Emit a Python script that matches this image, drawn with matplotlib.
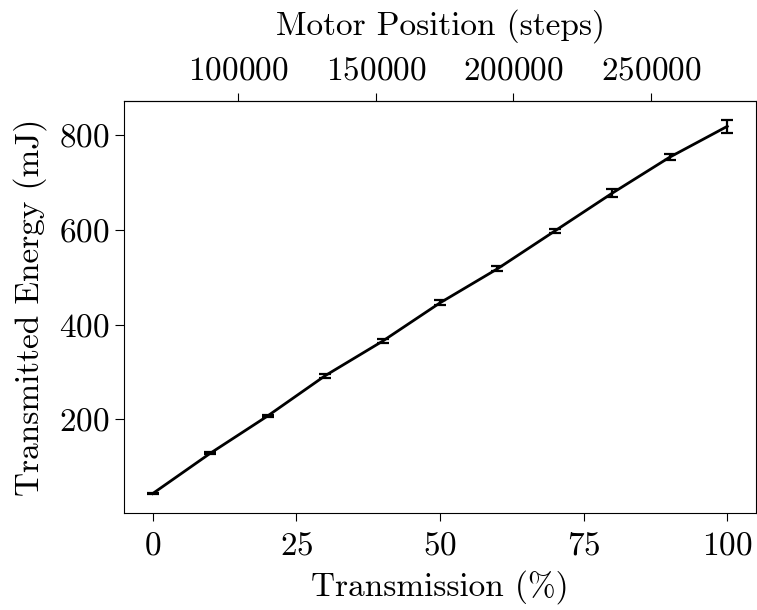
import numpy as np
import matplotlib
matplotlib.use("Agg")
import matplotlib.pyplot as plt

plt.rcParams.update({
    "font.family": "serif",
    "font.serif": ["cmr10"],
    "mathtext.fontset": "cm",
    "axes.formatter.use_mathtext": True,
    "axes.unicode_minus": False,
    "font.size": 24,
    "xtick.major.size": 6,
    "ytick.major.size": 6.5,
    "xtick.major.width": 0.8,
    "ytick.major.width": 0.8,
    "axes.linewidth": 0.8,
})

# Attenuator scan: transmission setting vs measured energy
transmission = [0, 10, 20, 30, 40, 50, 60, 70, 80, 90, 100]
energy = [43, 128, 207, 292, 365, 446, 518, 598, 678, 754, 819]
energy_err = [1.5, 2, 3, 4, 4, 5, 5, 5, 9, 7, 14]

# motor steps at 0 % and 100 % transmission
motor_at_0 = 68870
motor_at_100 = 277800

fig = plt.figure(figsize=(7.57, 6.10), dpi=100)
ax = fig.add_axes([124 / 757, 1 - 513 / 610, (756 - 124) / 757, (513 - 101) / 610])

ax.errorbar(transmission, energy, yerr=energy_err, color="black", lw=2,
            elinewidth=1.6, capsize=4.5, capthick=1.6)
ax.set_xlabel("Transmission (%)", labelpad=7)
ax.set_ylabel("Transmitted Energy (mJ)", labelpad=9)
ax.set_xticks([0, 25, 50, 75, 100])
ax.set_yticks([200, 400, 600, 800])
ax.tick_params(axis="x", pad=7)

# top axis in motor steps, linear in transmission
slope = (motor_at_100 - motor_at_0) / 100.0
top = ax.secondary_xaxis("top", functions=(lambda t: motor_at_0 + slope * t,
                                           lambda m: (m - motor_at_0) / slope))
top.set_xticks([100000, 150000, 200000, 250000])
top.tick_params(pad=5)
top.set_xlabel("Motor Position (steps)", labelpad=16)

fig.savefig("out.png", dpi=100)
